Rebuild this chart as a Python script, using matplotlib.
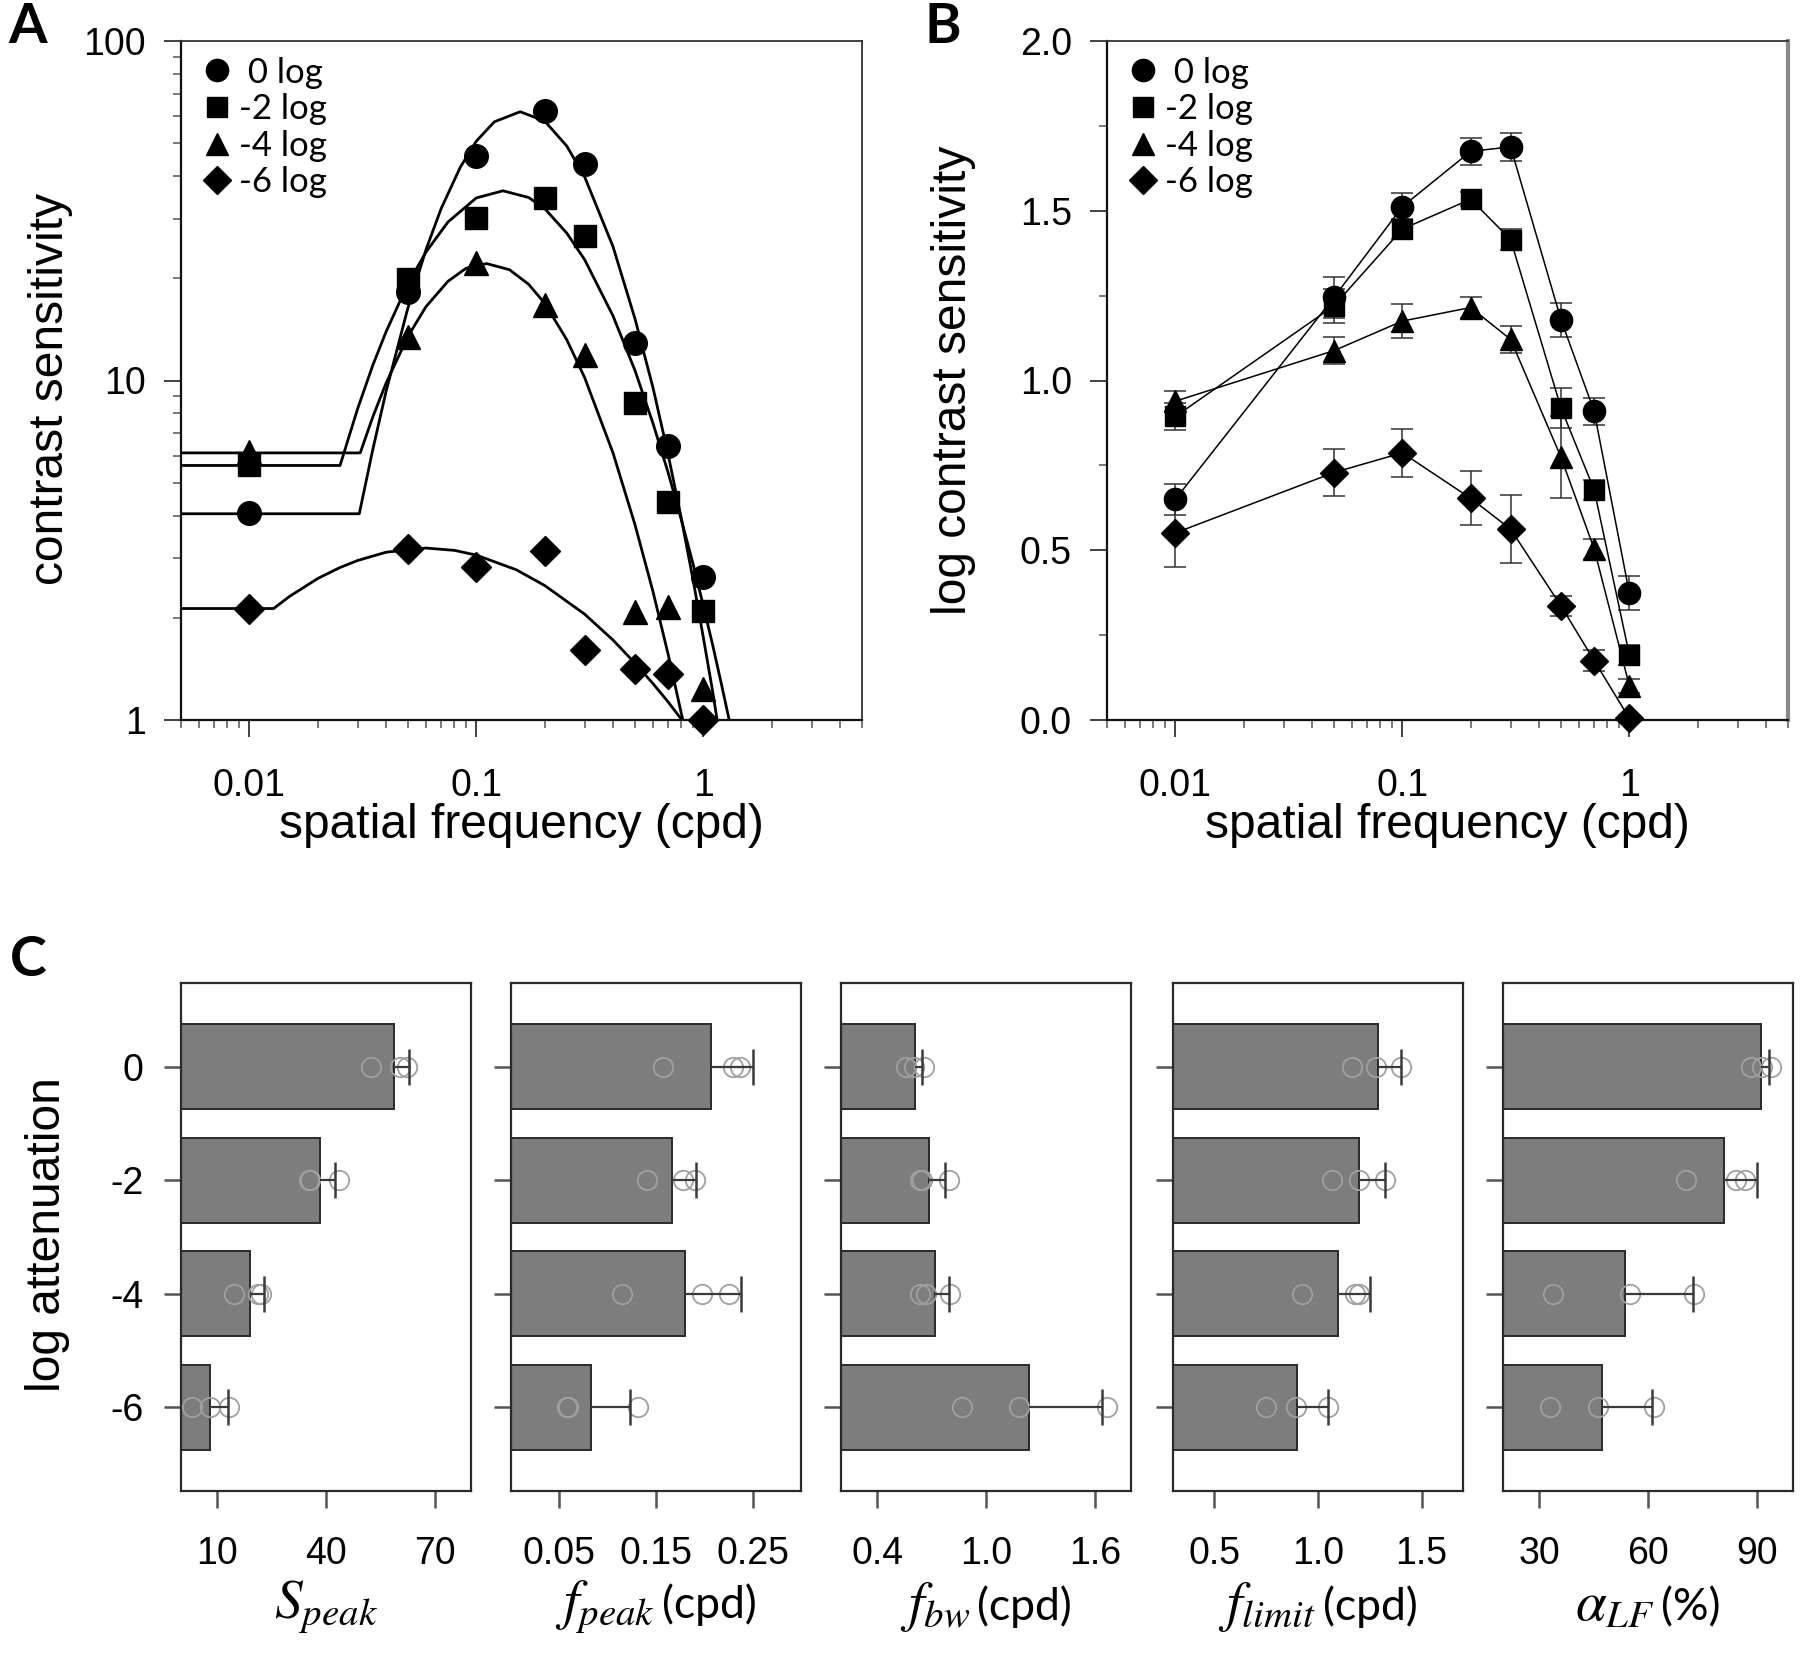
import numpy as np
import matplotlib
matplotlib.use("Agg")
import matplotlib.pyplot as plt
from matplotlib.lines import Line2D
from matplotlib.offsetbox import TextArea, HPacker, AnchoredOffsetbox
from matplotlib.ticker import (LogLocator, NullFormatter, FixedLocator, MultipleLocator,
                               FormatStrFormatter)

plt.rcParams["font.family"] = ["Liberation Sans", "DejaVu Sans"]
plt.rcParams["mathtext.fontset"] = "stix"

# ---------------- data ----------------
conditions = ["0 log", "-2 log", "-4 log", "-6 log"]
legend_labels = [" 0 log", "-2 log", "-4 log", "-6 log"]
markers = ["o", "s", "^", "D"]

sf = [0.01, 0.05, 0.1, 0.2, 0.3, 0.5, 0.7, 1.0]

# panel A: group contrast sensitivity
cs_0 = [4.07, 18.2, 45.8, 62.2, 43.4, 12.9, 6.41, 2.64]
cs_2 = [5.64, 19.9, 30.1, 34.5, 26.6, 8.59, 4.39, 2.09]
cs_4 = [6.16, 13.4, 22.2, 16.7, 11.9, 2.08, 2.15, 1.23]
cs_6 = [2.12, 3.19, 2.82, 3.15, 1.61, 1.41, 1.37, 1.0]

# panel A: fitted curves
fit_f_0 = [0.005, 0.0305, 0.035, 0.04, 0.05, 0.06, 0.07, 0.085, 0.1, 0.12, 0.156,
           0.2, 0.25, 0.3, 0.4, 0.5, 0.6, 0.7, 0.8, 0.9, 1.0, 1.1, 1.15]
fit_s_0 = [4.05, 4.05, 6.27, 9.27, 16.4, 24.3, 32.1, 42.5, 50.7, 57.8, 61.9,
           58.1, 49.1, 39.8, 24.8, 15.2, 9.53, 6.05, 3.92, 2.60, 1.75, 1.21, 1.0]
fit_f_2 = [0.005, 0.0251, 0.03, 0.035, 0.04, 0.05, 0.06, 0.075, 0.1, 0.131, 0.17,
           0.2, 0.25, 0.3, 0.4, 0.5, 0.6, 0.7, 0.8, 0.9, 1.0, 1.1, 1.2, 1.3]
fit_s_2 = [5.62, 5.62, 8.26, 11.1, 13.9, 19.3, 23.9, 29.3, 34.5, 36.2, 34.6,
           32.1, 27.2, 22.7, 15.5, 10.7, 7.48, 5.35, 3.89, 2.89, 2.17, 1.66, 1.28, 1.0]
fit_f_4 = [0.005, 0.0308, 0.035, 0.04, 0.05, 0.06, 0.075, 0.09, 0.111, 0.14, 0.17,
           0.2, 0.25, 0.3, 0.4, 0.5, 0.6, 0.7, 0.812]
fit_s_4 = [6.12, 6.12, 7.82, 9.81, 13.5, 16.5, 19.6, 21.4, 22.1, 21.2, 19.2,
           16.9, 13.2, 10.2, 6.12, 3.76, 2.39, 1.56, 1.0]
fit_f_6 = [0.005, 0.0128, 0.015, 0.02, 0.025, 0.03, 0.04, 0.06, 0.08, 0.1, 0.15,
           0.2, 0.3, 0.4, 0.5, 0.6, 0.7, 0.805]
fit_s_6 = [2.13, 2.13, 2.31, 2.61, 2.81, 2.95, 3.12, 3.21, 3.16, 3.06, 2.77,
           2.49, 2.05, 1.72, 1.47, 1.28, 1.13, 1.0]

# panel B: mean log contrast sensitivity and error
lcs_0 = [0.650, 1.245, 1.512, 1.675, 1.688, 1.179, 0.909, 0.374]
lcs_2 = [0.894, 1.220, 1.446, 1.534, 1.415, 0.919, 0.678, 0.192]
lcs_4 = [0.939, 1.088, 1.175, 1.215, 1.121, 0.774, 0.504, 0.101]
lcs_6 = [0.551, 0.729, 0.787, 0.653, 0.562, 0.336, 0.175, 0.005]
err_0 = [0.045, 0.06, 0.04, 0.04, 0.04, 0.05, 0.04, 0.05]
err_2 = [0.04, 0.05, 0.03, 0.02, 0.03, 0.06, 0.03, 0.03]
err_4 = [0.03, 0.04, 0.05, 0.03, 0.04, 0.12, 0.03, 0.02]
err_6 = [0.10, 0.07, 0.07, 0.08, 0.10, 0.03, 0.03, 0.01]

# panel C: CSF parameters (bar = mean, err = upper error, subj = individual)
atten_labels = ["0", "-2", "-4", "-6"]

speak_mean = [58.7, 38.3, 19.1, 8.1]
speak_err = [4.3, 4.1, 3.9, 4.8]
speak_subj = [[52.4, 60.5, 62.4], [35.2, 35.6, 43.5], [14.5, 21.2, 22.0], [2.9, 8.1, 13.3]]

fpeak_mean = [0.207, 0.167, 0.180, 0.083]
fpeak_err = [0.043, 0.024, 0.058, 0.040]
fpeak_subj = [[0.157, 0.230, 0.237], [0.141, 0.178, 0.190], [0.115, 0.198, 0.225], [0.058, 0.059, 0.131]]

fbw_mean = [0.606, 0.684, 0.716, 1.237]
fbw_err = [0.040, 0.089, 0.079, 0.401]
fbw_subj = [[0.56, 0.60, 0.66], [0.636, 0.646, 0.795], [0.636, 0.668, 0.804], [0.868, 1.183, 1.670]]

flimit_mean = [1.289, 1.200, 1.097, 0.900]
flimit_err = [0.111, 0.125, 0.153, 0.147]
flimit_subj = [[1.164, 1.278, 1.40], [1.067, 1.20, 1.325], [0.922, 1.177, 1.20], [0.747, 0.894, 1.047]]

alpha_mean = [91.1, 80.9, 53.7, 47.3]
alpha_err = [2.4, 9.1, 18.6, 13.7]
alpha_subj = [[88.4, 91.5, 93.9], [70.5, 84.4, 86.8], [33.9, 54.9, 72.8], [33.1, 46.2, 61.6]]

# ---------------- figure ----------------
W, H = 1800, 1663
fig = plt.figure(figsize=(W / 100, H / 100), dpi=100)


def px_axes(left, top, right, bottom):
    return fig.add_axes([left / W, 1 - bottom / H, (right - left) / W, (bottom - top) / H])


TICK_FS = 27
LABEL_FS = 34.5
LEG_FS = 25
PT = 1.389  # pixels per point at dpi 100


def style_csf_axes(ax):
    ax.set_xscale("log")
    ax.set_xlim(0.005, 5)
    ax.xaxis.set_major_locator(FixedLocator([0.01, 0.1, 1]))
    ax.set_xticklabels(["0.01", "0.1", "1"])
    ax.xaxis.set_minor_locator(LogLocator(base=10, subs=np.arange(2, 10)))
    ax.xaxis.set_minor_formatter(NullFormatter())
    ax.tick_params(which="major", direction="out", length=17 / PT, width=1.3,
                   color="#333333", labelsize=TICK_FS)
    ax.tick_params(which="minor", direction="out", length=8 / PT, width=1.1,
                   color="#555555")
    ax.tick_params(axis="x", which="major", pad=22)
    ax.tick_params(axis="y", which="major", pad=13)
    for s in ["left", "bottom"]:
        ax.spines[s].set_linewidth(1.6)
        ax.spines[s].set_color("#111111")
    for s in ["top", "right"]:
        ax.spines[s].set_linewidth(1.3)
        ax.spines[s].set_color("#333333")
    ax.set_xlabel("spatial frequency (cpd)", fontsize=LABEL_FS)
    ax.xaxis.set_label_coords(0.5, -0.155)
    ax.xaxis.label.set_va("center")


def add_legend(ax):
    handles = [Line2D([], [], color="black", marker=m, linestyle="none", markersize=ms)
               for m, ms in zip(markers, [16, 15, 16, 14])]
    ax.legend(handles, legend_labels, loc="upper left", bbox_to_anchor=(0.005, 1.0),
              frameon=False, handlelength=1.0, handletextpad=0.12, labelspacing=0.13,
              borderaxespad=0.05, prop={"family": "Lato", "size": LEG_FS})


# ---- panel A ----
axA = px_axes(181, 41, 862, 720)
fits = [(fit_f_0, fit_s_0), (fit_f_2, fit_s_2), (fit_f_4, fit_s_4), (fit_f_6, fit_s_6)]
for ff, ss in fits:
    axA.plot(ff, ss, color="black", lw=2.0, solid_joinstyle="round")
sizes = [17, 16, 17, 15]
for vals, m, ms in zip([cs_0, cs_2, cs_4, cs_6], markers, sizes):
    axA.plot(sf, vals, linestyle="none", marker=m, color="black", markersize=ms,
             clip_on=False, zorder=4)
axA.set_yscale("log")
axA.set_ylim(1, 100)
axA.yaxis.set_major_locator(FixedLocator([1, 10, 100]))
axA.set_yticklabels(["1", "10", "100"])
axA.yaxis.set_minor_locator(LogLocator(base=10, subs=np.arange(2, 10)))
axA.yaxis.set_minor_formatter(NullFormatter())
style_csf_axes(axA)
axA.set_ylabel("contrast sensitivity", fontsize=LABEL_FS)
axA.yaxis.set_label_coords(-0.192, 0.487)
axA.yaxis.label.set_va("center")
add_legend(axA)

# ---- panel B ----
axB = px_axes(1107, 41, 1788, 720)
for vals, errs, m, ms in zip([lcs_0, lcs_2, lcs_4, lcs_6], [err_0, err_2, err_4, err_6],
                             markers, sizes):
    axB.errorbar(sf, vals, yerr=errs, color="black", ecolor="#333333", elinewidth=1.1,
                 capsize=8, capthick=1.1, lw=1.1, marker=m, markersize=ms - 1,
                 clip_on=False, zorder=4)
axB.set_ylim(0, 2.0)
axB.yaxis.set_major_locator(MultipleLocator(0.5))
axB.yaxis.set_minor_locator(MultipleLocator(0.25))
axB.yaxis.set_major_formatter(FormatStrFormatter("%.1f"))
style_csf_axes(axB)
axB.spines["right"].set_color("#8a8a8a")
axB.spines["right"].set_linewidth(3.0)
axB.set_ylabel("log contrast sensitivity", fontsize=LABEL_FS)
axB.yaxis.set_label_coords(-0.226, 0.5)
axB.yaxis.label.set_va("center")
add_legend(axB)

# ---- panel C ----
c_lefts = [181, 511, 841, 1173, 1503]
c_width = 290
c_top, c_bottom = 983, 1491
c_data = [
    (speak_mean, speak_err, speak_subj, (0, 80), [10, 40, 70], ["10", "40", "70"],
     r"$S_{peak}$", ""),
    (fpeak_mean, fpeak_err, fpeak_subj, (0, 0.3), [0.05, 0.15, 0.25], ["0.05", "0.15", "0.25"],
     r"$f_{peak}$", "(cpd)"),
    (fbw_mean, fbw_err, fbw_subj, (0.2, 1.8), [0.4, 1.0, 1.6], ["0.4", "1.0", "1.6"],
     r"$f_{bw}$", "(cpd)"),
    (flimit_mean, flimit_err, flimit_subj, (0.3, 1.7), [0.5, 1.0, 1.5], ["0.5", "1.0", "1.5"],
     r"$f_{limit}$", "(cpd)"),
    (alpha_mean, alpha_err, alpha_subj, (20, 100), [30, 60, 90], ["30", "60", "90"],
     r"$\alpha_{LF}$", "(%)"),
]
ypos = np.arange(len(atten_labels))
for i, (mean, err, subj, xlim, xt, xtl, sym, unit) in enumerate(c_data):
    ax = px_axes(c_lefts[i], c_top, c_lefts[i] + c_width, c_bottom)
    ax.barh(ypos, np.array(mean) - xlim[0], left=xlim[0], height=0.75, color="#7d7d7d",
            edgecolor="#2a2a2a", linewidth=1.4, zorder=2)
    for y, row in zip(ypos, subj):
        ax.plot(row, [y] * len(row), linestyle="none", marker="o", markersize=14,
                markerfacecolor="none", markeredgecolor="#a0a0a0", markeredgewidth=1.3,
                zorder=3)
    caps = np.array(mean) + np.array(err)
    ax.hlines(ypos, mean, caps, color="#3a3a3a", lw=1.6, zorder=4)
    ax.plot(caps, ypos, linestyle="none", marker="|", markersize=26, markeredgewidth=1.8,
            color="#3a3a3a", zorder=4)
    ax.set_xlim(*xlim)
    ax.set_ylim(3.74, -0.74)
    ax.set_xticks(xt)
    ax.set_xticklabels(xtl)
    ax.set_yticks(ypos)
    if i == 0:
        ax.set_yticklabels(atten_labels)
        ax.set_ylabel("log attenuation", fontsize=LABEL_FS)
        ax.yaxis.set_label_coords(-0.459, 0.505)
        ax.yaxis.label.set_va("center")
    else:
        ax.set_yticklabels([])
    ax.tick_params(direction="out", length=17 / PT, width=1.8, color="#555555",
                   labelsize=TICK_FS, pad=15)
    ax.tick_params(axis="x", pad=20)
    for s in ax.spines.values():
        s.set_linewidth(1.6)
        s.set_color("#2a2a2a")

    # x label: big math symbol followed by the unit in a sans font
    parts = [TextArea(sym, textprops=dict(fontsize=40))]
    if unit:
        parts.append(TextArea(unit, textprops=dict(fontsize=32, family="Lato")))
    label_box = HPacker(children=parts, align="baseline", pad=0, sep=5)
    anchored = AnchoredOffsetbox(loc="center", child=label_box, pad=0, borderpad=0,
                                 frameon=False, bbox_to_anchor=(0.5, -0.228),
                                 bbox_transform=ax.transAxes)
    fig.add_artist(anchored)

# panel letters
for letter, x, y in [("A", 28, 27), ("B", 943, 27), ("C", 28, 960)]:
    fig.text(x / W, 1 - y / H, letter, fontsize=40, fontweight="bold", family="Lato",
             ha="center", va="center")

fig.savefig("out.png", dpi=100, facecolor="white")
